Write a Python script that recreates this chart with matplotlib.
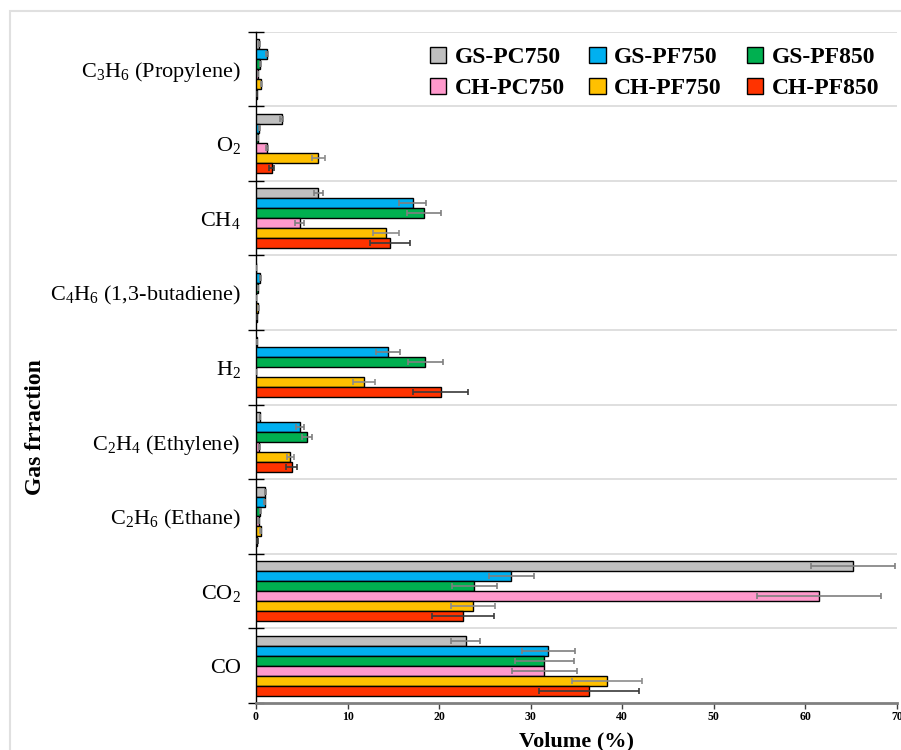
import numpy as np
import matplotlib
matplotlib.use("Agg")
import matplotlib.pyplot as plt
from matplotlib.patches import Rectangle

plt.rcParams['font.family'] = ['Liberation Serif', 'DejaVu Serif']
plt.rcParams['mathtext.fontset'] = 'custom'
plt.rcParams['mathtext.rm'] = 'Liberation Serif'
plt.rcParams['mathtext.it'] = 'Liberation Serif'
plt.rcParams['mathtext.default'] = 'rm'

# gas fractions, bottom to top on the chart
gases = ['CO', 'CO$_2$', 'C$_2$H$_6$ (Ethane)', 'C$_2$H$_4$ (Ethylene)', 'H$_2$',
         'C$_4$H$_6$ (1,3-butadiene)', 'CH$_4$', 'O$_2$', 'C$_3$H$_6$ (Propylene)']

samples = ['GS-PC750', 'GS-PF750', 'GS-PF850', 'CH-PC750', 'CH-PF750', 'CH-PF850']
colors = ['#BFBFBF', '#00B0F0', '#00B050', '#FF99CC', '#FFC000', '#FF3300']
err_colors = ['#7F7F7F', '#7F7F7F', '#7F7F7F', '#7F7F7F', '#8C8C8C', '#3A3A3A']

# volume (%) per gas, same order as gases
gs_pc750 = [22.9, 65.2, 1.02, 0.44, 0.10, 0.05, 6.8, 2.8, 0.36]
gs_pf750 = [31.9, 27.9, 0.95, 4.84, 14.4, 0.47, 17.1, 0.36, 1.24]
gs_pf850 = [31.5, 23.85, 0.47, 5.57, 18.5, 0.20, 18.3, 0.20, 0.47]
ch_pc750 = [31.5, 61.5, 0.30, 0.36, 0.0, 0.0, 4.77, 1.24, 0.25]
ch_pf750 = [38.3, 23.7, 0.50, 3.75, 11.8, 0.25, 14.2, 6.8, 0.58]
ch_pf850 = [36.4, 22.6, 0.15, 3.90, 20.2, 0.10, 14.6, 1.7, 0.14]

gs_pc750_err = [1.6, 4.6, 0.05, 0.05, 0.0, 0.0, 0.47, 0.15, 0.03]
gs_pf750_err = [2.9, 2.5, 0.05, 0.45, 1.3, 0.05, 1.5, 0.05, 0.10]
gs_pf850_err = [3.2, 2.45, 0.03, 0.55, 1.87, 0.02, 1.85, 0.02, 0.05]
ch_pc750_err = [3.5, 6.75, 0.03, 0.05, 0.0, 0.0, 0.5, 0.10, 0.02]
ch_pf750_err = [3.8, 2.4, 0.05, 0.4, 1.2, 0.03, 1.44, 0.7, 0.05]
ch_pf850_err = [5.45, 3.4, 0.02, 0.6, 3.0, 0.01, 2.2, 0.25, 0.02]

values = [gs_pc750, gs_pf750, gs_pf850, ch_pc750, ch_pf750, ch_pf850]
errors = [gs_pc750_err, gs_pf750_err, gs_pf850_err, ch_pc750_err, ch_pf750_err, ch_pf850_err]

fig = plt.figure(figsize=(9.01, 7.5), dpi=100)
ax = fig.add_axes([0.2841, 0.0627, 0.7115, 0.8953])

# light frame around the whole figure
fig.patches.append(Rectangle((10 / 901, -0.01), 1.0, 1 - 11 / 750 + 0.01,
                             transform=fig.transFigure, fill=False,
                             edgecolor='#E0E0E0', linewidth=1.5))

y = np.arange(len(gases))
h = 0.1333
handles = []
for i, (vals, errs) in enumerate(zip(values, errors)):
    offset = (2.5 - i) * h
    bars = ax.barh(y + offset, vals, height=h, color=colors[i], edgecolor='black',
                   linewidth=1.0, label=samples[i], zorder=3)
    handles.append(bars)
    ax.errorbar(vals, y + offset, xerr=errs, fmt='none', ecolor=err_colors[i],
                elinewidth=1.2, capsize=2.5, capthick=1.2, zorder=4)

ax.set_xlim(0, 70)
ax.set_ylim(-0.5, len(gases) - 0.5)

# boundaries between gas groups
bounds = np.arange(len(gases) + 1) - 0.5
for b in bounds[1:]:
    ax.axhline(b, color='#D9D9D9', linewidth=1.2, zorder=1)
ax.set_yticks(bounds)
ax.set_yticklabels([])
ax.tick_params(axis='y', which='major', direction='inout', length=12, width=1.0, color='black')
ax.set_yticks(y, minor=True)
ax.set_yticklabels(gases, minor=True, fontsize=16)
ax.tick_params(axis='y', which='minor', length=0, pad=11)

ax.set_xticks(np.arange(0, 71, 10))
ax.tick_params(axis='x', direction='out', length=4, width=1.0, color='#404040',
               labelsize=8.5, pad=2)
for lbl in ax.get_xticklabels():
    lbl.set_fontweight('bold')

for side in ['top', 'right']:
    ax.spines[side].set_visible(False)
ax.spines['left'].set_color('black')
ax.spines['left'].set_linewidth(1.0)
ax.spines['bottom'].set_color('#808080')
ax.spines['bottom'].set_linewidth(2.0)

ax.set_xlabel('Volume (%)', fontsize=16, fontweight='bold', labelpad=6)
fig.text(0.039, 0.431, 'Gas frraction', rotation=90, fontsize=17,
         fontweight='bold', ha='center', va='center')

# legend filled row by row: GS samples on top, CH samples below
order = [0, 3, 1, 4, 2, 5]
ax.legend([handles[k] for k in order], [samples[k] for k in order],
          loc='upper right', ncol=3, frameon=False,
          bbox_to_anchor=(1.005, 1.009),
          prop={'size': 17, 'weight': 'bold'},
          handlelength=0.7, handleheight=0.7, handletextpad=0.35,
          columnspacing=1.05, labelspacing=0.4)

fig.savefig('out.png', dpi=100)
